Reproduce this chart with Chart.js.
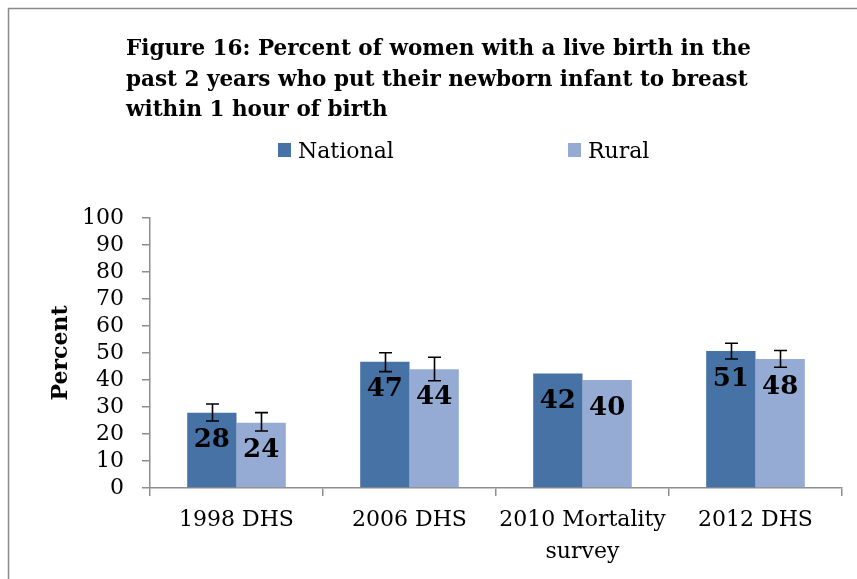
<!DOCTYPE html>
<html>
<head>
<meta charset="utf-8">
<script src="https://cdn.jsdelivr.net/npm/chart.js@4"></script>
<style>
  html, body { margin: 0; padding: 0; background: #ffffff; }
  #wrap { width: 857px; height: 579px; position: relative; }
</style>
</head>
<body>
<div id="wrap"><canvas id="c" width="857" height="579"></canvas></div>
<script>
const titleLines = [
  'Figure 16: Percent of women with a live birth in the',
  'past 2 years who put their newborn infant to breast',
  'within 1 hour of birth'
];
const categories = ['1998 DHS', '2006 DHS', ['2010 Mortality', 'survey'], '2012 DHS'];
const seriesNames = ['National', 'Rural'];
const nationalValues = [27.9, 46.8, 42.4, 50.7];
const ruralValues = [24.2, 44.0, 40.0, 47.8];
const nationalCI = [[24.8, 31.1], [43.1, 50.1], null, [47.8, 53.6]];
const ruralCI = [[21.1, 27.9], [39.7, 48.4], null, [44.7, 50.9]];
const yMin = 0, yMax = 100, yStep = 10;
const yTitle = 'Percent';

const colNational = '#4672A6';
const colRural = '#95ABD4';
const axisColor = '#8E8E8E';
const FONT = '"DejaVu Serif", serif';

const framePlugin = {
  id: 'frame',
  beforeDraw(chart) {
    const ctx = chart.ctx;
    ctx.save();
    ctx.fillStyle = '#ffffff';
    ctx.fillRect(0, 0, chart.width, chart.height);
    ctx.strokeStyle = '#8a8a8a';
    ctx.lineWidth = 1.5;
    ctx.strokeRect(8.5, 8.5, chart.width + 20, chart.height + 20);
    ctx.restore();
  }
};

const titlePlugin = {
  id: 'leftTitle',
  afterDraw(chart) {
    const ctx = chart.ctx;
    ctx.save();
    ctx.fillStyle = '#000000';
    ctx.font = 'bold 21.5px ' + FONT;
    ctx.textAlign = 'left';
    ctx.textBaseline = 'alphabetic';
    const baselines = [55, 86, 116];
    titleLines.forEach((t, i) => ctx.fillText(t, 126, baselines[i]));
    ctx.restore();
  }
};

const legendPlugin = {
  id: 'customLegend',
  afterDraw(chart) {
    const ctx = chart.ctx;
    ctx.save();
    ctx.font = '22px ' + FONT;
    ctx.textBaseline = 'alphabetic';
    ctx.textAlign = 'left';
    const items = [
      { x: 278, color: chart.data.datasets[0].backgroundColor, label: chart.data.datasets[0].label },
      { x: 568, color: chart.data.datasets[1].backgroundColor, label: chart.data.datasets[1].label }
    ];
    items.forEach(it => {
      ctx.fillStyle = it.color;
      ctx.fillRect(it.x, 143, 13, 14);
      ctx.fillStyle = '#000000';
      ctx.fillText(it.label, it.x + 20, 158);
    });
    ctx.restore();
  }
};

const errorBarPlugin = {
  id: 'errorBars',
  afterDatasetsDraw(chart) {
    const ctx = chart.ctx;
    const yScale = chart.scales.y;
    const cis = [nationalCI, ruralCI];
    ctx.save();
    ctx.strokeStyle = '#000000';
    ctx.lineWidth = 1.6;
    chart.data.datasets.forEach((ds, di) => {
      const meta = chart.getDatasetMeta(di);
      meta.data.forEach((bar, i) => {
        const ci = cis[di][i];
        if (!ci) return;
        const x = Math.round(bar.x) + 0.5;
        const yLo = yScale.getPixelForValue(ci[0]);
        const yHi = yScale.getPixelForValue(ci[1]);
        ctx.beginPath();
        ctx.moveTo(x, yLo); ctx.lineTo(x, yHi);
        ctx.moveTo(x - 6.5, yLo); ctx.lineTo(x + 6.5, yLo);
        ctx.moveTo(x - 6.5, yHi); ctx.lineTo(x + 6.5, yHi);
        ctx.stroke();
      });
    });
    ctx.restore();
  }
};

const valueLabelPlugin = {
  id: 'valueLabels',
  afterDatasetsDraw(chart) {
    const ctx = chart.ctx;
    ctx.save();
    ctx.fillStyle = '#000000';
    ctx.font = 'bold 26px ' + FONT;
    ctx.textAlign = 'center';
    ctx.textBaseline = 'middle';
    chart.data.datasets.forEach((ds, di) => {
      const meta = chart.getDatasetMeta(di);
      meta.data.forEach((bar, i) => {
        ctx.fillText(String(Math.round(ds.data[i])), bar.x, bar.y + 28);
      });
    });
    ctx.restore();
  }
};

new Chart(document.getElementById('c'), {
  type: 'bar',
  data: {
    labels: categories,
    datasets: [
      { label: seriesNames[0], data: nationalValues, backgroundColor: colNational },
      { label: seriesNames[1], data: ruralValues, backgroundColor: colRural }
    ]
  },
  options: {
    responsive: false,
    animation: false,
    devicePixelRatio: 1,
    layout: { padding: { top: 218, left: 48, right: 15, bottom: 0 } },
    datasets: { bar: { categoryPercentage: 0.57, barPercentage: 1.0 } },
    plugins: {
      legend: { display: false },
      title: { display: false },
      tooltip: { enabled: false }
    },
    scales: {
      x: {
        afterFit(scale) { scale.height = 91; },
        grid: { offset: true, drawOnChartArea: false, drawTicks: true, tickLength: 8, color: axisColor, lineWidth: 1.5 },
        border: { color: axisColor, width: 1.5 },
        ticks: { color: '#000000', font: { family: FONT, size: 22, lineHeight: 1.42 }, padding: 9, maxRotation: 0, autoSkip: false }
      },
      y: {
        min: yMin, max: yMax,
        afterFit(scale) { scale.width = 102; },
        grid: { drawOnChartArea: false, drawTicks: true, tickLength: 8, color: axisColor, lineWidth: 1.5 },
        border: { color: axisColor, width: 1.5 },
        ticks: { stepSize: yStep, autoSkip: false, color: '#000000', font: { family: FONT, size: 22 }, padding: 18 },
        title: { display: true, text: yTitle, color: '#000000', font: { family: FONT, size: 22, weight: 'bold' }, padding: { top: 0, bottom: 0 } }
      }
    }
  },
  plugins: [framePlugin, titlePlugin, legendPlugin, errorBarPlugin, valueLabelPlugin]
});
</script>
</body>
</html>
